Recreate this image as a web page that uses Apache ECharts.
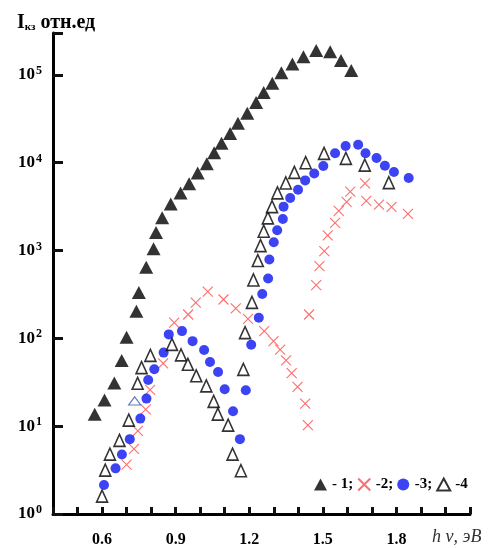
<!DOCTYPE html>
<html>
<head>
<meta charset="utf-8">
<script src="https://cdn.jsdelivr.net/npm/echarts@6/dist/echarts.min.js"></script>
<style>
  html, body { margin: 0; padding: 0; background: #fff; }
  #main { width: 497px; height: 548px; }
  #err { position: absolute; left: 60px; top: 40px; width: 400px; font: 11px monospace; color: #c00; }
</style>
</head>
<body>
<div id="main"></div>
<div id="err"></div>
<script>
window.onerror = function (msg) { document.getElementById('err').textContent += ' ' + msg; };

// tick labels
var xLabels = [0.6, 0.9, 1.2, 1.5, 1.8];
var yLabels = [1, 10, 100, 1000, 10000, 100000];

// series 1 - filled triangles
var s1 = [[0.57,13.7],[0.61,19.9],[0.65,31],[0.68,56],[0.70,103],[0.74,203],[0.75,333],[0.78,646],
  [0.81,1050],[0.82,1600],[0.845,2370],[0.88,3380],[0.92,4530],[0.955,5770],[0.99,7640],[1.027,9750],
  [1.057,13000],[1.087,16700],[1.122,21500],[1.154,28200],[1.192,36700],[1.228,48400],[1.259,63000],
  [1.294,80500],[1.331,106000],[1.376,133000],[1.421,161000],[1.473,189000],[1.53,184000],
  [1.574,146000],[1.616,112000]];

// series 2 - crosses
var s2 = [[0.70,3.65],[0.73,5.5],[0.746,8.85],[0.778,15.5],[0.796,25.9],[0.849,52],[0.894,151],
  [0.951,187],[0.982,255],[1.031,340],[1.095,277],[1.145,219],[1.195,167],[1.261,121],[1.299,93],
  [1.326,74.5],[1.35,56],[1.373,40.3],[1.397,28.1],[1.428,18.1],[1.439,10.3],[1.444,187],[1.473,403],
  [1.486,663],[1.506,982],[1.52,1490],[1.55,2060],[1.565,2830],[1.597,3590],[1.612,4680],[1.672,5820],
  [1.677,3670],[1.729,3330],[1.78,3140],[1.847,2610]];

// series 3 - circles
var s3 = [[0.608,2.14],[0.655,3.31],[0.681,4.77],[0.713,7.12],[0.756,12.2],[0.781,20.6],[0.788,33.6],
  [0.813,44.4],[0.851,68.8],[0.872,111],[0.926,121],[0.969,93],[1.016,73.6],[1.04,53.8],[1.073,41.4],
  [1.10,26.3],[1.134,14.8],[1.162,7.12],[1.186,25.6],[1.208,84.4],[1.239,172],[1.253,320],[1.277,481],
  [1.282,790],[1.30,1240],[1.314,1700],[1.337,2290],[1.34,3160],[1.367,3970],[1.399,4930],[1.428,6290],
  [1.465,7550],[1.502,9180],[1.55,12800],[1.593,15500],[1.644,16000],[1.674,12800],[1.719,11300],
  [1.753,9250],[1.79,7840],[1.85,6700]];

// series 4 - open triangles
var s4 = [[0.60,1.6],[0.613,3.16],[0.632,4.81],[0.671,6.88],[0.709,11.7],[0.733,19.4],[0.745,30.8],
  [0.761,46.5],[0.797,64.1],[0.885,85.5],[0.922,65],[0.95,50.7],[0.984,37.5],[1.025,28.8],[1.055,19.2],
  [1.072,13.7],[1.114,10.3],[1.132,4.81],[1.166,3.11],[1.176,44.4],[1.183,116],[1.211,257],[1.217,462],
  [1.235,770],[1.246,1140],[1.259,1660],[1.276,2350],[1.293,3160],[1.315,4530],[1.349,5880],
  [1.384,7760],[1.43,10000],[1.505,12800],[1.594,11200],[1.671,9370],[1.769,5930]];

var legendText = {'1': '- 1;', '2': '-2;', '3': '-3;', '4': '-4'};
var serif = 'Liberation Serif';

var chart = echarts.init(document.getElementById('main'));

// one point of series 4 is drawn in blue outline in the original
var s4data = s4.map(function (p, i) {
  if (i === 5) {
    return { value: p, symbolSize: [12, 8], itemStyle: { borderColor: '#3a55b0', borderWidth: 1.2 } };
  }
  return p;
});

var option = {
  animation: false,
  title: {
    text: '{i|I}{sub|кз}{t| отн.ед}',
    left: 12,
    top: 8,
    textStyle: {
      rich: {
        i: { fontFamily: serif, fontSize: 20, fontWeight: 'bold', color: '#000' },
        sub: { fontFamily: serif, fontSize: 11, fontWeight: 'bold', color: '#000', verticalAlign: 'bottom', padding: [6, 0, 0, 0] },
        t: { fontFamily: serif, fontSize: 20, fontWeight: 'bold', color: '#000' }
      }
    }
  },
  legend: {
    data: ['1', '2', '3', '4'],
    left: 309,
    top: 472,
    itemGap: 4,
    itemWidth: 13,
    itemHeight: 12,
    formatter: function (name) { return legendText[name]; },
    textStyle: { fontFamily: serif, fontSize: 15, fontWeight: 'bold', color: '#000' }
  },
  grid: { left: 53, right: 27, top: 33, bottom: 33 },
  xAxis: {
    type: 'value',
    min: 0.4,
    max: 2.1,
    interval: 0.1,
    splitLine: { show: false },
    axisLine: { lineStyle: { color: '#000', width: 3 } },
    axisTick: { show: true, inside: true, length: 7, lineStyle: { color: '#111', width: 3 } },
    axisLabel: {
      margin: 18,
      fontFamily: serif, fontSize: 16, fontWeight: 'bold', color: '#000',
      formatter: function (v) {
        var r = Math.round(v * 10) / 10;
        return xLabels.indexOf(r) >= 0 ? r.toFixed(1) : '';
      }
    }
  },
  yAxis: {
    type: 'log',
    min: 1,
    max: 300000,
    splitLine: { show: false },
    axisLine: { show: true, lineStyle: { color: '#000', width: 3 } },
    axisTick: { show: true, inside: true, length: 10, lineStyle: { color: '#111', width: 3 } },
    axisLabel: {
      margin: 11,
      formatter: function (v) {
        if (yLabels.indexOf(v) < 0) return '';
        return '{b|10}{s|' + Math.round(Math.log10(v)) + '}';
      },
      rich: {
        b: { fontFamily: serif, fontSize: 17, fontWeight: 'bold', color: '#000' },
        s: { fontFamily: serif, fontSize: 12, fontWeight: 'bold', color: '#000', verticalAlign: 'top', padding: [0, 0, 8, 1] }
      }
    }
  },
  graphic: [{
    type: 'text',
    left: 432,
    top: 528,
    style: { text: 'h ν, эВ', fontFamily: serif, fontStyle: 'italic', fontSize: 18, fill: '#333' }
  }],
  series: [
    {
      name: '1', type: 'scatter', data: s1,
      symbol: 'triangle', symbolSize: [14, 13],
      itemStyle: { color: '#000' }
    },
    {
      name: '2', type: 'scatter', data: s2,
      symbol: 'path://M0,0L10,10M10,0L0,10', symbolSize: 10,
      itemStyle: { color: '#ff4a4a', borderColor: '#ff4a4a', borderWidth: 1.1 }
    },
    {
      name: '3', type: 'scatter', data: s3,
      symbol: 'circle', symbolSize: 10,
      itemStyle: { color: '#0a14f0' }
    },
    {
      name: '4', type: 'scatter', data: s4data,
      symbol: 'triangle', symbolSize: [11, 12],
      itemStyle: { color: '#fff', borderColor: '#000', borderWidth: 1.6 }
    }
  ]
};

try {
  chart.setOption(option);
} catch (e) {
  document.getElementById('err').textContent += ' ' + e.message;
}
</script>
</body>
</html>
